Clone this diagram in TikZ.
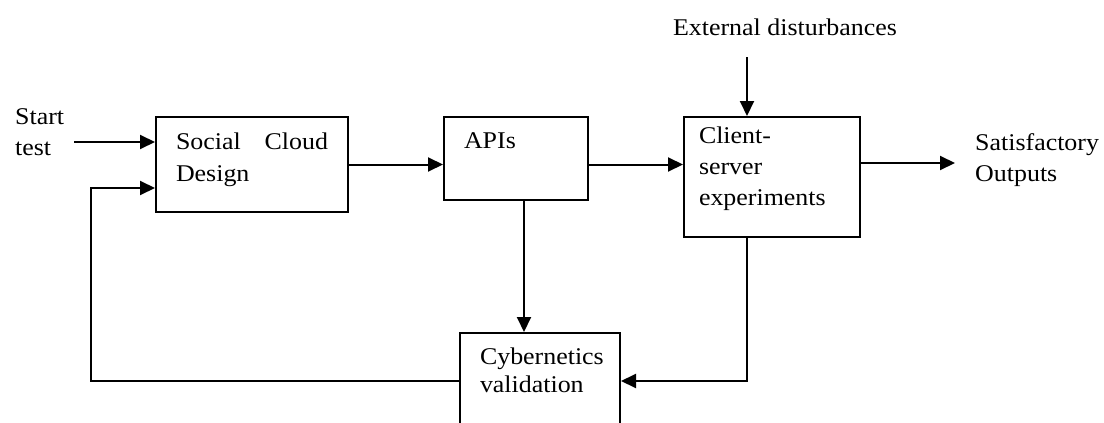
\documentclass[tikz,border=0pt]{standalone}
\usepackage{fontspec}
\setmainfont{Liberation Serif}[FakeStretch=1.08]
\usetikzlibrary{arrows.meta}

% 方框里的文字: 宽, 高, 上边距, 行距, 内容
\newcommand{\blktext}[5]{\parbox[c][#2][t]{#1}{\leftskip=20pt\rightskip=20pt
  \baselineskip=#4\vspace*{#3}\strut #5}}

\begin{document}
\begin{tikzpicture}[x=1pt,y=-1pt,
  font=\fontsize{24}{31}\selectfont,
  blk/.style={draw, line width=2pt, anchor=north west, inner sep=0pt},
  arr/.style={line width=2pt, -{Triangle[length=15pt,width=14pt]}}]

\clip (0,0) rectangle (1104,423);

% 方框
\node[blk] (design) at (155,116) {\blktext{192pt}{95pt}{11pt}{32pt}{Social\hfill Cloud\\Design}};
\node[blk] (apis) at (443,116) {\blktext{144pt}{83pt}{10pt}{32pt}{APIs}};
\node[blk] (client) at (683,116) {\hspace*{-5pt}\blktext{181pt}{120pt}{5pt}{31pt}{Client-\\server\\experiments}};
\node[blk] (cyber) at (459,332) {\blktext{160pt}{96pt}{10pt}{28pt}{Cybernetics\\validation}};

% 文字
\node[anchor=north west, inner sep=0pt, align=left] (start) at (15,108) {Start\\test};
\node[anchor=north west, inner sep=0pt, align=left] (out) at (975,133) {Satisfactory\\Outputs};
\node[inner sep=0pt] (ext) at (785,27) {External disturbances};

\coordinate (in) at (74,142);
\coordinate (dist) at (747,57);
\coordinate (outtip) at (955,163);
\coordinate (fb) at (91,188);

% 箭头
\draw[arr] (in) -- (in -| design.west);
\draw[arr] (design.east) -- (design.east -| apis.west);
\draw[arr] (apis.east |- design.east) -- (design.east -| client.west);
\draw[arr] (client.east |- outtip) -- (outtip);
\draw[arr] (dist) -- (dist |- client.north);
\draw[arr] ([xshift=8pt]apis.south) -- ([xshift=8pt]apis.south |- cyber.north);
\draw[arr] (client.south -| dist) -- (dist |- cyber.east) -- (cyber.east);
\draw[arr] (cyber.west) -| (fb) -- (fb -| design.west);
\end{tikzpicture}
\end{document}
